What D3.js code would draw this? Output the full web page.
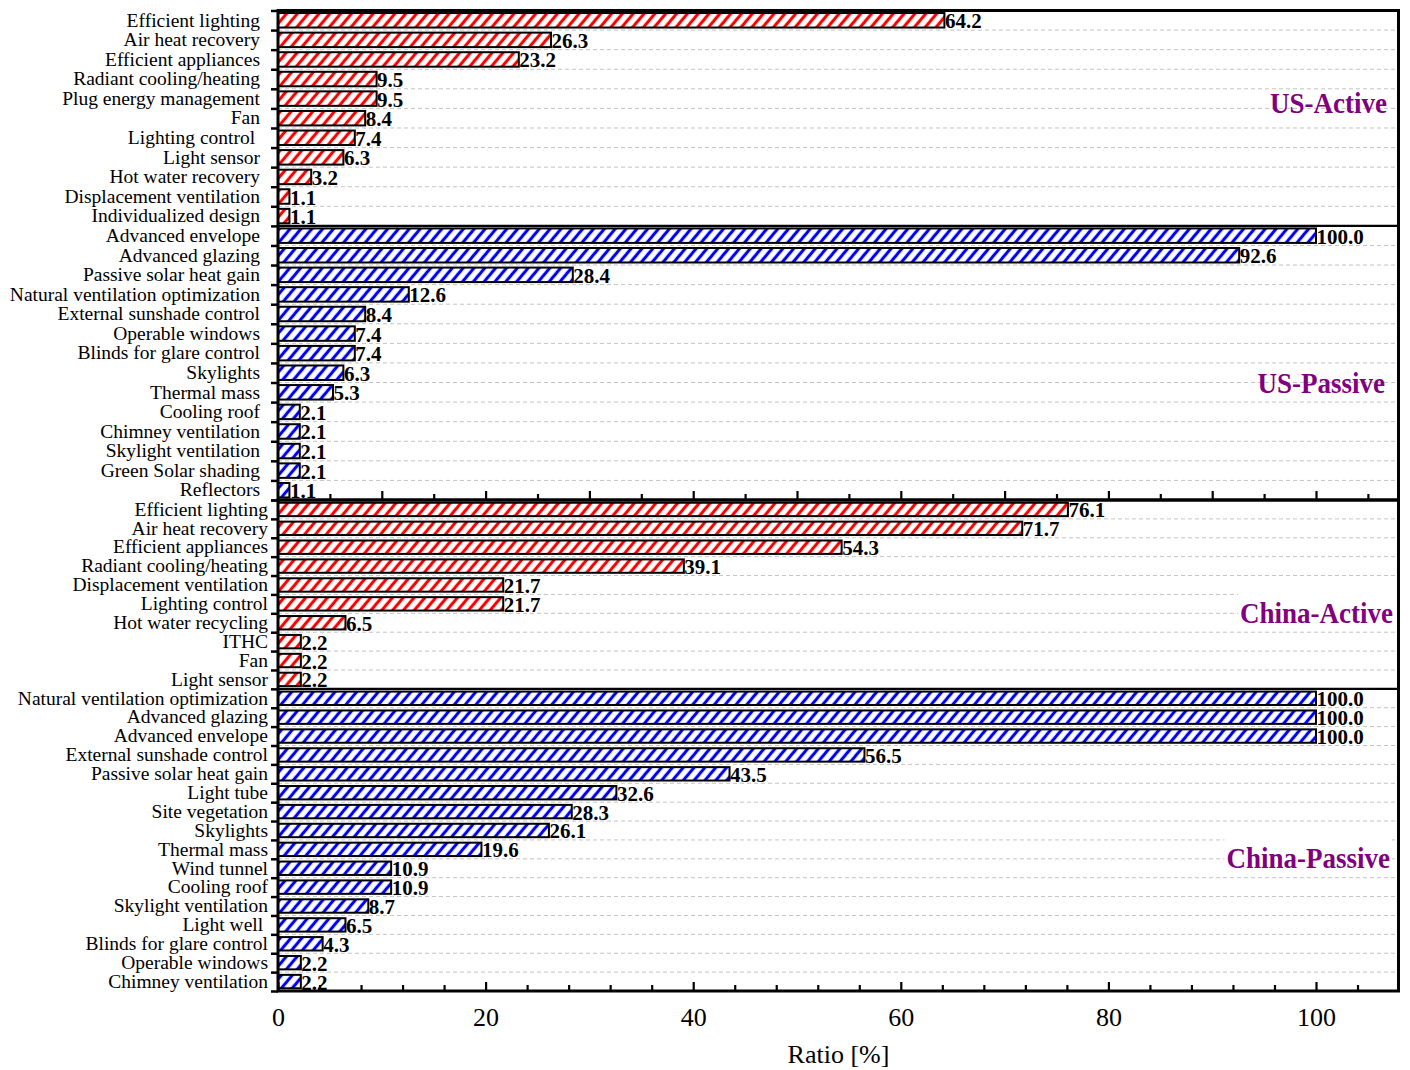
<!DOCTYPE html>
<html><head><meta charset="utf-8">
<script src="https://cdn.jsdelivr.net/npm/d3@7"></script>
<style>
body{margin:0;background:#fff}
svg{display:block}
text{font-family:"Liberation Serif","Times New Roman",serif}
</style>
</head><body>
<svg id="chart" width="1410" height="1070"></svg>
<script>
// ---------------- DATA ----------------
const usActiveCats = ["Efficient lighting","Air heat recovery","Efficient appliances","Radiant cooling/heating","Plug energy management","Fan","Lighting control\u00a0","Light sensor","Hot water recovery","Displacement ventilation","Individualized design"];
const usActiveVals = [64.2,26.3,23.2,9.5,9.5,8.4,7.4,6.3,3.2,1.1,1.1];

const usPassiveCats = ["Advanced envelope","Advanced glazing","Passive solar heat gain","Natural ventilation optimization","External sunshade control","Operable windows","Blinds for glare control","Skylights","Thermal mass","Cooling roof","Chimney ventilation","Skylight ventilation","Green Solar shading","Reflectors"];
const usPassiveVals = [100.0,92.6,28.4,12.6,8.4,7.4,7.4,6.3,5.3,2.1,2.1,2.1,2.1,1.1];

const cnActiveCats = ["Efficient lighting","Air heat recovery","Efficient appliances","Radiant cooling/heating","Displacement ventilation","Lighting control","Hot water recycling","ITHC","Fan","Light sensor"];
const cnActiveVals = [76.1,71.7,54.3,39.1,21.7,21.7,6.5,2.2,2.2,2.2];

const cnPassiveCats = ["Natural ventilation optimization","Advanced glazing","Advanced envelope","External sunshade control","Passive solar heat gain","Light tube","Site vegetation","Skylights","Thermal mass","Wind tunnel","Cooling roof","Skylight ventilation","Light well\u00a0","Blinds for glare control","Operable windows","Chimney ventilation"];
const cnPassiveVals = [100.0,100.0,100.0,56.5,43.5,32.6,28.3,26.1,19.6,10.9,10.9,8.7,6.5,4.3,2.2,2.2];

const groupNames = ["US-Active","US-Passive","China-Active","China-Passive"];
const xTickLabels = [0,20,40,60,80,100];
const xTitle = "Ratio [%]";

// ---------------- LAYOUT ----------------
const svg = d3.select("#chart");
const X0 = 278, X1 = 1398.5;
const x = d3.scaleLinear().domain([0,108]).range([X0, X0 + 108*(1316-278)/100]);

const defs = svg.append("defs");
function hatch(id, color){
  const p = defs.append("pattern").attr("id", id)
    .attr("patternUnits","userSpaceOnUse")
    .attr("width",8.3).attr("height",10)
    .attr("patternTransform","rotate(40)");
  p.append("rect").attr("width",8.3).attr("height",10).attr("fill","#fff");
  p.append("line").attr("x1",4.15).attr("x2",4.15).attr("y1",-1).attr("y2",11)
    .attr("stroke",color).attr("stroke-width",3.1);
}
hatch("hRed","#ff0000");
hatch("hBlue","#0000ff");

const panels = [
  {y0:10.5, y1:500, labelPad:18, pad:0.26,
   groups:[{cats:usActiveCats, vals:usActiveVals, fill:"url(#hRed)", name:groupNames[0], labelEnd:1387, labelRow:5.25, box:false},
           {cats:usPassiveCats, vals:usPassiveVals, fill:"url(#hBlue)", name:groupNames[1], labelEnd:1385, labelRow:19.55, box:false}],
   bottom:"top"},
  {y0:500, y1:991, labelPad:10, pad:0.29,
   groups:[{cats:cnActiveCats, vals:cnActiveVals, fill:"url(#hRed)", name:groupNames[2], labelEnd:1393, labelRow:6.53, box:true},
           {cats:cnPassiveCats, vals:cnPassiveVals, fill:"url(#hBlue)", name:groupNames[3], labelEnd:1390, labelRow:19.5, box:true}],
   bottom:"main"}
];

panels.forEach(P => {
  const rows = [];
  const sepIdx = [];
  P.groups.forEach((g,gi) => {
    if (gi > 0) sepIdx.push(rows.length);
    g.cats.forEach((c,i) => rows.push({cat:c, val:g.vals[i], fill:g.fill}));
  });
  const n = rows.length;
  const yB = d3.scaleBand().domain(d3.range(n)).range([P.y0, P.y1])
    .paddingInner(P.pad).paddingOuter(P.pad/2);
  const yL = d3.scaleLinear().domain([0,n]).range([P.y0, P.y1]);

  const g = svg.append("g");

  // grid lines at row boundaries
  g.append("g").selectAll("line").data(d3.range(1,n)).join("line")
    .attr("x1", X0).attr("x2", X1)
    .attr("y1", d => yL(d)).attr("y2", d => yL(d))
    .attr("stroke","#c4c4c4").attr("stroke-width",1).attr("stroke-dasharray","4,3");

  // group labels
  P.groups.forEach(gr => {
    const t = g.append("text")
      .attr("x", gr.labelEnd).attr("y", yL(gr.labelRow))
      .attr("text-anchor","end")
      .attr("font-size",30).attr("font-weight","bold").attr("fill","#800080")
      .text(gr.name);
    const w = t.node().getComputedTextLength();
    t.attr("textLength", w*0.9).attr("lengthAdjust","spacingAndGlyphs");
    if (gr.box) {
      const bb = t.node().getBBox();
      g.insert("rect", () => t.node())
        .attr("x", bb.x - 2).attr("y", bb.y - 4)
        .attr("width", bb.width + 4).attr("height", bb.height + 4)
        .attr("fill","#fff");
    }
  });

  // bars
  g.append("g").selectAll("rect").data(rows).join("rect")
    .attr("x", x(0)).attr("y", (d,i) => yB(i))
    .attr("width", d => x(d.val) - x(0)).attr("height", yB.bandwidth())
    .attr("fill", d => d.fill).attr("stroke","#000").attr("stroke-width",2);

  // value labels
  g.append("g").selectAll("text").data(rows).join("text")
    .attr("x", d => x(d.val) + 0.5).attr("y", (d,i) => yL(i+0.5) + 8)
    .attr("font-size",21).attr("font-weight","bold").attr("fill","#000")
    .text(d => d.val.toFixed(1));

  // group separators
  sepIdx.forEach(s => {
    g.append("line").attr("x1",X0).attr("x2",X1).attr("y1",yL(s)).attr("y2",yL(s))
      .attr("stroke","#000").attr("stroke-width",2.2);
  });

  // y category labels
  const ya = g.append("g").attr("transform",`translate(${X0},0)`)
    .call(d3.axisLeft(yB).tickSize(0).tickPadding(P.labelPad).tickFormat(i => rows[i].cat));
  ya.select(".domain").remove();
  ya.selectAll("text").attr("font-size",19.5).attr("fill","#000")
    .attr("font-family",'"Liberation Serif","Times New Roman",serif')
    .style("white-space","pre");

  // y boundary ticks (outward)
  const yt = g.append("g").attr("transform",`translate(${X0},0)`)
    .call(d3.axisLeft(yL).tickValues(d3.range(n+1)).tickSize(7).tickFormat(""));
  yt.select(".domain").remove();
  yt.selectAll("line").attr("stroke","#000").attr("stroke-width",2.5);

  // x ticks (inward)
  if (P.bottom === "top") {
    const majors = d3.range(10,110,10);
    const minors = d3.range(5,110,10);
    const a1 = g.append("g").attr("transform",`translate(0,${P.y1})`)
      .call(d3.axisBottom(x).tickValues(majors).tickSize(-9).tickFormat(""));
    a1.select(".domain").remove();
    a1.selectAll("line").attr("stroke","#000").attr("stroke-width",2.2);
    const a2 = g.append("g").attr("transform",`translate(0,${P.y1})`)
      .call(d3.axisBottom(x).tickValues(minors).tickSize(-6).tickFormat(""));
    a2.select(".domain").remove();
    a2.selectAll("line").attr("stroke","#000").attr("stroke-width",2.2);
  } else {
    const minors = d3.range(4,108,4).filter(v => v % 20 !== 0);
    const a2 = g.append("g").attr("transform",`translate(0,${P.y1})`)
      .call(d3.axisBottom(x).tickValues(minors).tickSize(-6).tickFormat(""));
    a2.select(".domain").remove();
    a2.selectAll("line").attr("stroke","#000").attr("stroke-width",2.2);
    const a1 = g.append("g").attr("transform",`translate(0,${P.y1})`)
      .call(d3.axisBottom(x).tickValues(xTickLabels).tickSize(-9).tickPadding(17).tickFormat(d3.format("d")));
    a1.select(".domain").remove();
    a1.selectAll("line").attr("stroke","#000").attr("stroke-width",2.2);
    a1.selectAll("text").attr("font-size",26).attr("fill","#000")
      .attr("font-family",'"Liberation Serif","Times New Roman",serif');
  }

  // frame
  g.append("rect").attr("x",X0).attr("y",P.y0).attr("width",X1-X0).attr("height",P.y1-P.y0)
    .attr("fill","none").attr("stroke","#000").attr("stroke-width",3);
});

// axis title
svg.append("text").attr("x", (x(0)+x(108))/2 + 0).attr("y",1063)
  .attr("text-anchor","middle").attr("font-size",26).attr("fill","#000")
  .text(xTitle);
</script>
</body></html>
